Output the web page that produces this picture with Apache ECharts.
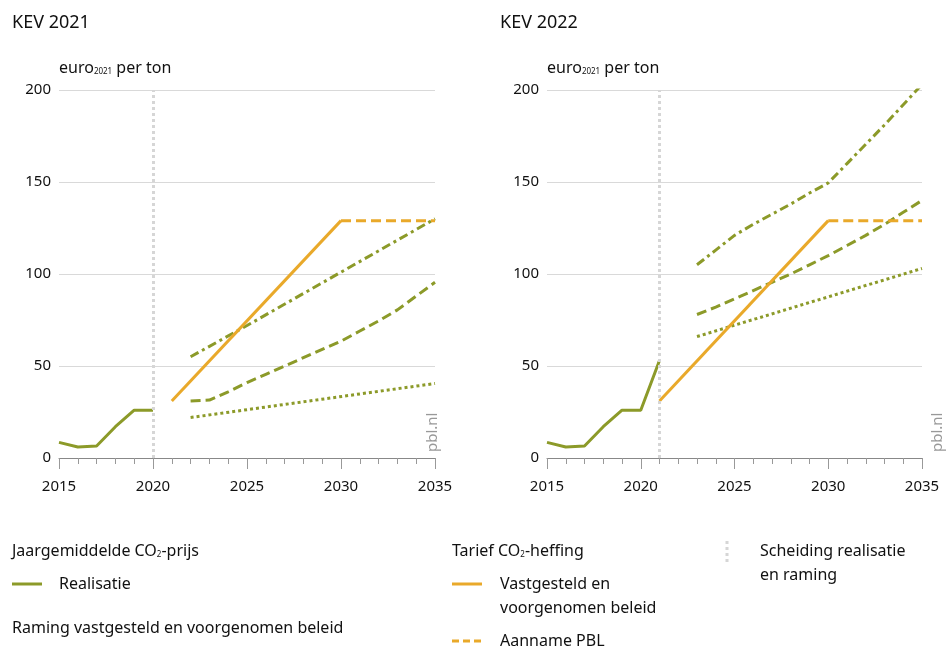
<!DOCTYPE html>
<html>
<head>
<meta charset="utf-8">
<script src="https://cdn.jsdelivr.net/npm/echarts@6/dist/echarts.min.js"></script>
<style>
  html, body { margin: 0; padding: 0; background: #fff; }
  #chart { width: 946px; height: 650px; }
</style>
</head>
<body>
<div id="chart"></div>
<script>
// KEV 2021
const realYears21 = [2015, 2016, 2017, 2018, 2019, 2020]
const real21 = [8.5, 6, 6.5, 17, 26, 26]
const tariefYears21 = [2021, 2030]
const tarief21 = [31, 129]
const pblYears21 = [2030, 2035]
const pbl21 = [129, 129]
const highYears21 = [2022, 2025, 2030, 2035]
const high21 = [55, 72, 101, 130]
const midYears21 = [2022, 2023, 2024, 2025, 2026, 2027, 2028, 2029, 2030, 2031, 2032, 2033, 2034, 2035]
const mid21 = [31, 31.5, 36, 41, 45.5, 50, 54.5, 59, 63.5, 69, 74.5, 80.5, 88, 95.5]
const lowYears21 = [2022, 2035]
const low21 = [22, 40.5]

// KEV 2022
const realYears22 = [2015, 2016, 2017, 2018, 2019, 2020, 2021]
const real22 = [8.5, 6, 6.5, 17, 26, 26, 53]
const tariefYears22 = [2021, 2030]
const tarief22 = [31, 129]
const pblYears22 = [2030, 2035]
const pbl22 = [129, 129]
const highYears22 = [2023, 2024, 2025, 2026, 2027, 2028, 2029, 2030, 2031, 2032, 2033, 2034, 2035]
const high22 = [105, 113, 121, 127, 132.5, 138, 144, 149.5, 160, 170.5, 181, 192, 203]
const midYears22 = [2023, 2024, 2025, 2026, 2027, 2028, 2029, 2030, 2031, 2032, 2033, 2034, 2035]
const mid22 = [78, 82, 86.5, 91, 95.5, 100, 105, 110, 115.5, 121, 127, 133.5, 140]
const lowYears22 = [2023, 2035]
const low22 = [66, 103]

const splitYears = [2020, 2021]
const green = '#8c9a29'
const orange = '#e9a92a'
const font = 'Noto Sans'

function pairs(xs, ys) {
  return xs.map((x, i) => [x, ys[i]])
}

function makeSeries(idx, d) {
  const base = { type: 'line', xAxisIndex: idx, yAxisIndex: idx, symbol: 'none', silent: true, z: 3 }
  return [
    Object.assign({}, base, {
      data: pairs(d.lowX, d.low),
      lineStyle: { color: green, width: 3, type: [3, 3] }
    }),
    Object.assign({}, base, {
      data: pairs(d.midX, d.mid),
      lineStyle: { color: green, width: 3, type: [10, 5] }
    }),
    Object.assign({}, base, {
      data: pairs(d.highX, d.high),
      lineStyle: { color: green, width: 3, type: [9, 4, 3, 4] }
    }),
    Object.assign({}, base, {
      data: pairs(d.pblX, d.pbl),
      lineStyle: { color: orange, width: 3, type: [10, 5] }
    }),
    Object.assign({}, base, {
      data: pairs(d.tarX, d.tar),
      lineStyle: { color: orange, width: 3 }
    }),
    Object.assign({}, base, {
      data: pairs(d.realX, d.real),
      lineStyle: { color: green, width: 3 },
      markLine: {
        silent: true,
        symbol: 'none',
        label: { show: false },
        lineStyle: { color: '#d6d6d6', width: 3, type: [3, 3] },
        data: [{ xAxis: splitYears[idx] }]
      }
    })
  ]
}

const xAxisBase = {
  type: 'value', min: 2015, max: 2035, interval: 5,
  axisLine: { show: true, lineStyle: { color: '#888', width: 1 } },
  axisTick: { show: true, length: 11, lineStyle: { color: '#999' } },
  minorTick: { show: true, splitNumber: 5, length: 6, lineStyle: { color: '#999' } },
  splitLine: { show: false },
  axisLabel: { color: '#111', fontSize: 15, fontFamily: font, margin: 21, formatter: v => String(v) }
}
const yAxisBase = {
  type: 'value', min: 0, max: 200, interval: 50,
  axisLine: { show: false }, axisTick: { show: false },
  splitLine: { lineStyle: { color: '#d9d9d9', width: 1 } },
  axisLabel: { color: '#111', fontSize: 15, fontFamily: font, margin: 8 }
}

const chart = echarts.init(document.getElementById('chart'), null, { renderer: 'canvas' })

const txt = (x, y, text, size, extra) => Object.assign({
  type: 'text', left: x, top: y,
  style: { text: text, fontSize: size || 16, fontFamily: font, fill: '#111' }
}, extra || {})
const subRich = {
  sub: { fontSize: 8, fontFamily: font, fill: '#111', verticalAlign: 'bottom', padding: [6, 0, 0, 0] }
}
const seg = (x1, y, x2, color, dash, width) => ({
  type: 'line', shape: { x1: x1, y1: y, x2: x2, y2: y },
  style: { stroke: color, lineWidth: width || 3, lineDash: dash || null }
})

chart.setOption({
  animation: false,
  grid: [
    { left: 59, top: 90, width: 376, height: 368 },
    { left: 547, top: 90, width: 375, height: 368 }
  ],
  xAxis: [Object.assign({ gridIndex: 0 }, xAxisBase), Object.assign({ gridIndex: 1 }, xAxisBase)],
  yAxis: [Object.assign({ gridIndex: 0 }, yAxisBase), Object.assign({ gridIndex: 1 }, yAxisBase)],
  series: makeSeries(0, {
    realX: realYears21, real: real21, tarX: tariefYears21, tar: tarief21,
    pblX: pblYears21, pbl: pbl21, highX: highYears21, high: high21,
    midX: midYears21, mid: mid21, lowX: lowYears21, low: low21
  }).concat(makeSeries(1, {
    realX: realYears22, real: real22, tarX: tariefYears22, tar: tarief22,
    pblX: pblYears22, pbl: pbl22, highX: highYears22, high: high22,
    midX: midYears22, mid: mid22, lowX: lowYears22, low: low22
  })),
  graphic: [
    txt(12, 14, 'KEV 2021', 18),
    txt(500, 14, 'KEV 2022', 18),
    { type: 'text', left: 59, top: 60, style: { text: 'euro{sub|2021} per ton', fontSize: 16, fontFamily: font, fill: '#111', rich: subRich } },
    { type: 'text', left: 547, top: 60, style: { text: 'euro{sub|2021} per ton', fontSize: 16, fontFamily: font, fill: '#111', rich: subRich } },
    { type: 'text', x: 425, y: 452, rotation: Math.PI / 2, style: { text: 'pbl.nl', fontSize: 15, fontFamily: font, fill: '#999' } },
    { type: 'text', x: 930, y: 452, rotation: Math.PI / 2, style: { text: 'pbl.nl', fontSize: 15, fontFamily: font, fill: '#999' } },
    // legend
    { type: 'text', left: 12, top: 543, style: { text: 'Jaargemiddelde CO{sub|2}-prijs', fontSize: 16, fontFamily: font, fill: '#111', rich: subRich } },
    seg(12, 584, 42, green),
    txt(59, 576, 'Realisatie'),
    txt(12, 620, 'Raming vastgesteld en voorgenomen beleid'),
    { type: 'text', left: 452, top: 543, style: { text: 'Tarief CO{sub|2}-heffing', fontSize: 16, fontFamily: font, fill: '#111', rich: subRich } },
    seg(452, 584, 482, orange),
    txt(500, 576, 'Vastgesteld en'),
    txt(500, 600, 'voorgenomen beleid'),
    seg(452, 641, 482, orange, [7, 4]),
    txt(500, 633, 'Aanname PBL'),
    { type: 'line', shape: { x1: 727, y1: 541, x2: 727, y2: 563 }, style: { stroke: '#d6d6d6', lineWidth: 3, lineDash: [3, 3] } },
    txt(760, 543, 'Scheiding realisatie'),
    txt(760, 567, 'en raming')
  ]
})
</script>
</body>
</html>
